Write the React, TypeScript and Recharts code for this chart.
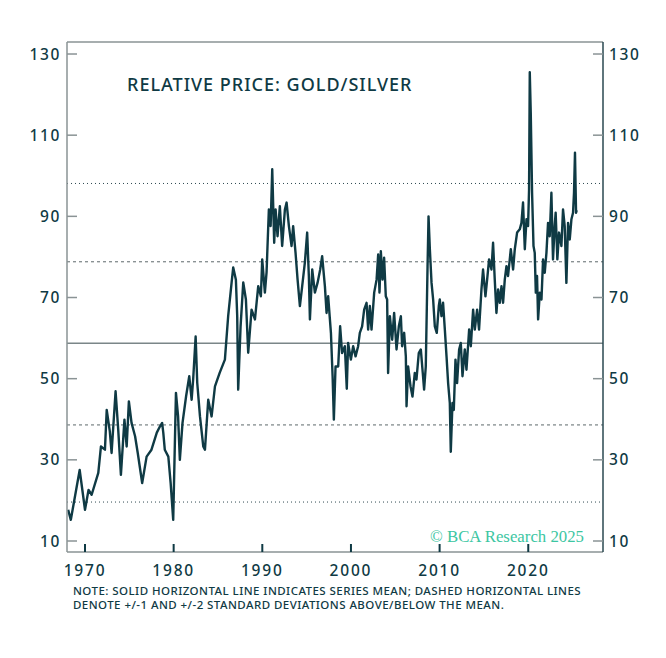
import React from 'react';
import { LineChart, Line, XAxis, YAxis, ReferenceLine } from 'recharts';

// gold/silver ratio (fractional year, ratio)
const years = [
  1968.1, 1968.4, 1969.4, 1970.0, 1970.4, 1970.75, 1971.5, 1971.8, 1972.25, 1972.45,
  1972.8, 1973.0, 1973.45, 1973.75, 1974.05, 1974.45, 1974.7, 1974.95, 1975.25, 1975.65,
  1975.95, 1976.45, 1976.95, 1977.5, 1978.1, 1978.45, 1978.7, 1978.83, 1979.0, 1979.4,
  1979.66, 1979.95, 1980.26, 1980.5, 1980.7, 1981.0, 1981.4, 1981.76, 1982.03, 1982.2,
  1982.48, 1982.66, 1982.97, 1983.34, 1983.53, 1983.9, 1984.28, 1984.66, 1985.2, 1985.78,
  1986.15, 1986.54, 1986.72, 1987.02, 1987.17, 1987.28, 1987.55, 1987.85, 1988.15, 1988.41,
  1988.79, 1989.17, 1989.54, 1989.84, 1989.99, 1990.29, 1990.48, 1990.74, 1990.94, 1991.12,
  1991.34, 1991.5, 1991.72, 1991.98, 1992.24, 1992.55, 1992.74, 1993.0, 1993.3, 1993.48,
  1993.75, 1993.98, 1994.24, 1994.5, 1994.8, 1995.06, 1995.25, 1995.37, 1995.63, 1995.93,
  1996.23, 1996.53, 1996.75, 1997.06, 1997.25, 1997.43, 1997.74, 1997.93, 1998.07, 1998.26,
  1998.56, 1998.78, 1999.0, 1999.31, 1999.53, 1999.68, 1999.99, 2000.25, 2000.52, 2000.81,
  2001.0, 2001.26, 2001.49, 2001.76, 2001.94, 2002.13, 2002.32, 2002.62, 2002.89, 2003.07,
  2003.22, 2003.37, 2003.56, 2003.74, 2003.93, 2004.08, 2004.19, 2004.39, 2004.65, 2004.87,
  2005.14, 2005.4, 2005.63, 2005.77, 2006.0, 2006.19, 2006.27, 2006.45, 2006.72, 2006.94,
  2007.2, 2007.39, 2007.65, 2007.88, 2008.1, 2008.25, 2008.44, 2008.64, 2008.75, 2008.9,
  2009.09, 2009.27, 2009.46, 2009.68, 2009.91, 2010.02, 2010.21, 2010.39, 2010.59, 2010.78,
  2010.96, 2011.15, 2011.26, 2011.45, 2011.6, 2011.79, 2011.97, 2012.2, 2012.39, 2012.58,
  2012.84, 2013.03, 2013.33, 2013.52, 2013.78, 2013.97, 2014.23, 2014.45, 2014.72, 2014.9,
  2015.17, 2015.36, 2015.58, 2015.85, 2016.03, 2016.22, 2016.41, 2016.6, 2016.79, 2016.98,
  2017.16, 2017.35, 2017.54, 2017.72, 2018.03, 2018.29, 2018.48, 2018.74, 2019.04, 2019.23,
  2019.41, 2019.61, 2019.8, 2019.98, 2020.09, 2020.17, 2020.28, 2020.43, 2020.59, 2020.73,
  2020.85, 2020.99, 2021.11, 2021.3, 2021.49, 2021.67, 2021.86, 2022.05, 2022.23, 2022.42,
  2022.61, 2022.79, 2022.98, 2023.09, 2023.28, 2023.47, 2023.74, 2023.92, 2024.11, 2024.3,
  2024.49, 2024.68, 2024.87, 2025.05, 2025.16, 2025.27, 2025.39, 2025.47,
];

const ratio = [
  17.7, 15.2, 27.5, 17.7, 22.6, 21.4, 26.8, 33.3, 32.5, 42.3,
  37.0, 31.7, 46.9, 37.4, 26.3, 39.9, 33.3, 44.4, 39.1, 35.8,
  31.7, 24.3, 30.8, 32.5, 36.7, 38.2, 39.1, 36.7, 32.5, 30.8,
  24.3, 15.2, 46.5, 40.7, 30.0, 39.1, 45.6, 50.6, 44.8, 49.8,
  60.4, 49.0, 40.7, 33.3, 32.5, 44.8, 40.7, 48.1, 51.5, 54.7,
  65.4, 73.7, 77.4, 74.4, 65.4, 47.3, 62.9, 73.7, 69.5, 56.4,
  67.0, 64.6, 72.8, 70.3, 79.4, 71.2, 76.2, 91.7, 87.6, 101.6,
  83.5, 91.7, 85.1, 92.5, 82.7, 91.7, 93.4, 87.6, 82.7, 87.6,
  81.0, 74.4, 67.9, 72.8, 78.6, 86.0, 75.3, 64.6, 76.9, 71.2,
  73.6, 76.9, 80.2, 72.8, 66.2, 70.3, 61.3, 50.6, 39.9, 53.0,
  53.0, 62.9, 56.3, 58.0, 47.5, 58.8, 54.7, 58.0, 55.5, 58.0,
  61.3, 62.9, 67.0, 68.7, 62.1, 67.9, 62.1, 71.2, 74.4, 80.6,
  71.2, 81.4, 74.4, 79.8, 70.3, 69.5, 51.4, 65.4, 59.6, 66.2,
  57.2, 62.9, 65.4, 58.0, 61.3, 55.5, 43.2, 53.0, 48.1, 45.6,
  51.4, 49.8, 56.3, 57.2, 51.4, 47.3, 53.0, 77.7, 90.0, 81.9,
  73.6, 69.5, 62.9, 61.3, 67.9, 69.5, 65.4, 68.7, 62.1, 55.5,
  48.9, 44.0, 32.0, 44.0, 42.3, 54.7, 48.9, 57.2, 58.8, 50.6,
  57.2, 52.2, 62.1, 58.0, 67.0, 62.1, 67.0, 62.1, 72.0, 76.9,
  70.3, 74.4, 79.4, 76.9, 83.5, 74.4, 66.2, 72.0, 68.7, 72.8,
  68.7, 74.4, 77.7, 75.3, 81.9, 76.9, 81.9, 86.0, 86.8, 88.4,
  93.4, 81.9, 89.3, 87.6, 96.7, 125.5, 115.6, 95.8, 82.7, 81.0,
  71.2, 75.3, 64.6, 71.2, 69.5, 79.4, 76.1, 81.0, 88.4, 85.1,
  95.8, 79.4, 87.6, 90.9, 79.4, 86.0, 82.7, 91.7, 87.6, 73.6,
  88.4, 84.3, 89.3, 90.9, 95.8, 105.7, 90.9, 91.5,
];

const xTicks = [1970, 1980, 1990, 2000, 2010, 2020];
const yTicks = [10, 30, 50, 70, 90, 110, 130];

const seriesMean = 58.7;
const oneSdBands = [38.6, 78.8];
const twoSdBands = [19.6, 98.1];

const data = years.map((year, i) => ({ year, ratio: ratio[i] }));

const INK = '#0f3a44';
const FRAME = '#8a9395';
const FONT = '"Noto Sans", sans-serif';

const PLOT_LEFT = 67;
const PLOT_RIGHT = 603;
const PLOT_BOTTOM = 552;

function XTick(props: any) {
  const { x, payload } = props;
  return (
    <g>
      <line x1={x} x2={x} y1={PLOT_BOTTOM} y2={PLOT_BOTTOM - 8} stroke={INK} strokeWidth={2} />
      <text x={x} y={PLOT_BOTTOM + 24} textAnchor="middle" fill={INK} fontSize={15.5}
        fontWeight={500} letterSpacing={1.8} fontFamily={FONT}>
        {payload.value}
      </text>
    </g>
  );
}

function LeftTick(props: any) {
  const { y, payload } = props;
  return (
    <g>
      <line x1={PLOT_LEFT} x2={PLOT_LEFT + 10} y1={y} y2={y} stroke={FRAME} strokeWidth={1.5} />
      <text x={PLOT_LEFT - 6} y={y + 5.5} textAnchor="end" fill={INK} fontSize={15.5}
        fontWeight={500} letterSpacing={1.6} fontFamily={FONT}>
        {payload.value}
      </text>
    </g>
  );
}

function RightTick(props: any) {
  const { y, payload } = props;
  return (
    <g>
      <line x1={PLOT_RIGHT - 10} x2={PLOT_RIGHT} y1={y} y2={y} stroke={FRAME} strokeWidth={1.5} />
      <text x={PLOT_RIGHT + 6} y={y + 5.5} textAnchor="start" fill={INK} fontSize={15.5}
        fontWeight={500} letterSpacing={1.6} fontFamily={FONT}>
        {payload.value}
      </text>
    </g>
  );
}

export default function App() {
  return (
    <div style={{ position: 'absolute', left: 0, top: 0, width: 666, height: 658, background: '#fff' }}>
      <LineChart width={666} height={658} data={data}
        margin={{ top: 42, right: 0, left: 0, bottom: 76 }}>
        <XAxis dataKey="year" type="number" domain={[1967.97, 2028.43]} ticks={xTicks}
          allowDataOverflow tick={<XTick />} tickLine={false} tickSize={0} tickMargin={0}
          height={30} axisLine={{ stroke: FRAME, strokeWidth: 1.5 }} interval={0} />
        <YAxis yAxisId="left" orientation="left" type="number" domain={[7.29, 132.96]}
          ticks={yTicks} allowDataOverflow width={67} tick={<LeftTick />} tickLine={false}
          tickSize={0} tickMargin={0} axisLine={{ stroke: FRAME, strokeWidth: 1.5 }} interval={0} />
        <YAxis yAxisId="right" orientation="right" type="number" domain={[7.29, 132.96]}
          ticks={yTicks} allowDataOverflow width={63} tick={<RightTick />} tickLine={false}
          tickSize={0} tickMargin={0} axisLine={{ stroke: '#2a4850', strokeWidth: 1.5 }} interval={0} />
        <ReferenceLine yAxisId="left" y={132.96} stroke={FRAME} strokeWidth={1.5} ifOverflow="extendDomain" />
        {twoSdBands.map((v) => (
          <ReferenceLine key={`two-${v}`} yAxisId="left" y={v} stroke="#2f4a52"
            strokeWidth={1} strokeDasharray="1 3" />
        ))}
        {oneSdBands.map((v) => (
          <ReferenceLine key={`one-${v}`} yAxisId="left" y={v} stroke="#5c686b"
            strokeWidth={1} strokeDasharray="3 3" />
        ))}
        <ReferenceLine yAxisId="left" y={seriesMean} stroke="#7a8688" strokeWidth={1.5} />
        <Line yAxisId="left" dataKey="ratio" type="linear" stroke={INK} strokeWidth={2.4}
          dot={false} isAnimationActive={false} strokeLinejoin="round" />
        <text x={127} y={91} fill={INK} fontSize={18} fontWeight={500} letterSpacing={1}
          fontFamily={FONT}>
          RELATIVE PRICE: GOLD/SILVER
        </text>
        <text x={430} y={542} fill="#3cc6a2" fontSize={16.8} fontFamily='"Liberation Serif", serif'>
          © BCA Research 2025
        </text>
        <text x={73} y={595} fill={INK} fontSize={11.5} fontWeight={500} letterSpacing={0.45}
          fontFamily={FONT}>
          NOTE: SOLID HORIZONTAL LINE INDICATES SERIES MEAN; DASHED HORIZONTAL LINES
        </text>
        <text x={73} y={609} fill={INK} fontSize={11.5} fontWeight={500} letterSpacing={0.45}
          fontFamily={FONT}>
          DENOTE +/-1 AND +/-2 STANDARD DEVIATIONS ABOVE/BELOW THE MEAN.
        </text>
      </LineChart>
    </div>
  );
}
